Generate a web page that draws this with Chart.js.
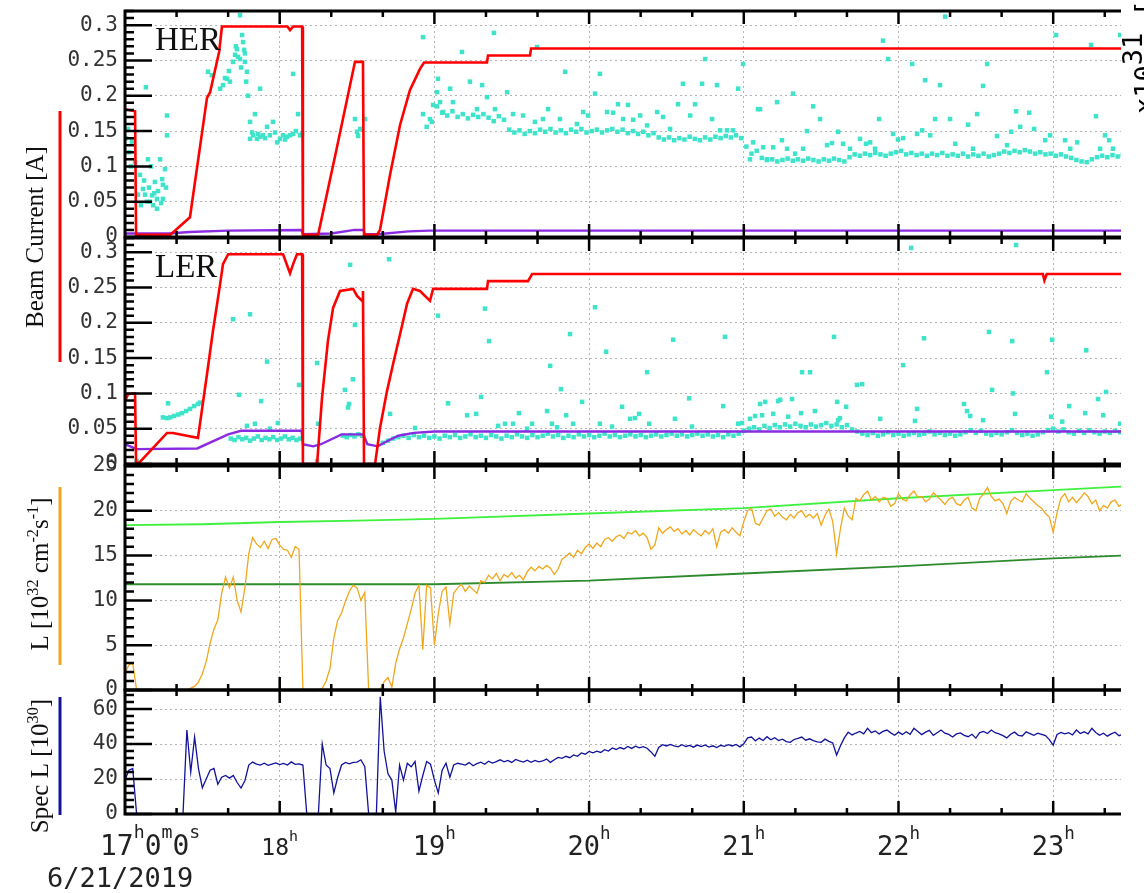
<!DOCTYPE html>
<html>
<head>
<meta charset="utf-8">
<script src="https://cdn.jsdelivr.net/npm/chart.js@4.4.1/dist/chart.umd.min.js"></script>
<style>
  html, body { margin: 0; padding: 0; background: #fff; }
  #wrap { position: relative; width: 1144px; height: 893px; overflow: hidden; }
  #wrap canvas { position: absolute; left: 0; top: 0; }
</style>
</head>
<body>
<div id="wrap">
  <canvas id="her" width="1144" height="893"></canvas>
  <canvas id="ler" width="1144" height="893"></canvas>
  <canvas id="lum" width="1144" height="893"></canvas>
  <canvas id="spec" width="1144" height="893"></canvas>
</div>
<script>
(function () {
  'use strict';

  // time axis: minutes after 17:00 on 6/21/2019
  var T_MAX = 386.3;
  var hourLabels = ['17', '18', '19', '20', '21', '22', '23'];
  var dateLabel = '6/21/2019';

  // ---- HER beam current [A] ----
  var herRed = [[0,0.181],[3.9,0.178],[4.3,0.003],[17.5,0.003],[25.2,0.028],[31.8,0.197],[33,0.205],[36.5,0.262],
    [37.6,0.298],[63,0.298],[64,0.293],[65.2,0.298],[68.7,0.298],[69,0.003],[74.9,0.003],[81.8,0.12],[89.2,0.248],
    [92.3,0.248],[92.7,0.003],[97.7,0.003],[98.9,0.01],[102.8,0.088],[106.7,0.159],[110.5,0.208],[114.4,0.238],
    [116,0.247],[140.4,0.247],[140.8,0.257],[157.1,0.257],[157.5,0.267],[387,0.267]];
  var herPurple = [[0,0.005],[17,0.005],[25,0.007],[40,0.009],[68.5,0.01],[69,0.004],[80,0.005],[89,0.01],
    [92.5,0.01],[93,0.004],[98,0.004],[110,0.008],[118,0.009],[387,0.009]];
  var herDots = [
    [0.4,0.14],[1.2,0.153],[1.6,0.12],[2.3,0.1],[2.7,0.135],[3.9,0.106],[5,0.06],[5.8,0.088],[6.2,0.045],[7,0.068],
    [7.4,0.08],[7.8,0.06],[8.1,0.212],[8.5,0.05],[8.9,0.11],[9.3,0.07],[9.7,0.05],[10.1,0.1],[10.5,0.059],[10.9,0.045],
    [11.3,0.062],[11.6,0.078],[12.4,0.054],[12.4,0.04],[12.8,0.065],[13.6,0.11],[14,0.048],[14.4,0.082],[14.7,0.074],
    [14.7,0.054],[15.5,0.096],[15.9,0.07],[16.3,0.172],[16.3,0.144],
    [32.2,0.234],[33.7,0.229],[36.9,0.21],[38,0.215],[38.8,0.225],[39.6,0.224],[40.3,0.235],[40.7,0.22],[41.9,0.248],
    [42.7,0.258],[43,0.27],[43.4,0.266],[43.8,0.255],[44.6,0.252],[44.6,0.314],[45,0.24],[45.4,0.286],[45.8,0.276],
    [46.2,0.265],[46.5,0.248],[46.5,0.26],[47,0.22],[47.3,0.234],[47.7,0.2],[52.4,0.21],
    [48.5,0.163],[48.5,0.139],[49.3,0.148],[49.7,0.144],[50.4,0.174],[51.2,0.139],[51.6,0.146],[52.4,0.142],[53.5,0.144],
    [54.3,0.14],[55.1,0.156],[56.2,0.144],[57.4,0.163],[58.2,0.148],[59,0.134],[60.1,0.139],[61.3,0.144],[62.1,0.138],
    [62.8,0.142],[64,0.144],[65.2,0.146],[65.2,0.231],[66.3,0.15],[67.1,0.174],[67.9,0.144],[68.7,0.146],
    [89.2,0.167],[90,0.149],[90.4,0.143],[91.2,0.153],[93.1,0.167],
    [115.6,0.283],[115.6,0.174],[118.3,0.167],[119.5,0.187],[121,0.205],[121.4,0.224],[122.2,0.191],[123.4,0.177],
    [126.1,0.21],[127.2,0.191],[130.7,0.262],[133.8,0.22],[136.5,0.181],[138.5,0.215],[140.4,0.198],[143.1,0.289],
    [143.5,0.181],[148.2,0.205],[150.5,0.174],[154.4,0.172],[159,0.163],[159.8,0.269],[162.1,0.167],[164.1,0.181],
    [168.7,0.167],[170.7,0.234],[175.3,0.16],[177.7,0.177],[179.6,0.172],[182.3,0.203],[184.2,0.231],[187,0.177],
    [189.3,0.176],[191.2,0.188],[193.2,0.167],[195.1,0.187],[197.1,0.166],[199.8,0.172],[202.5,0.158],[206.4,0.177],
    [208.7,0.17],[211.4,0.153],[214.5,0.188],[216.4,0.217],[219.2,0.172],[221.1,0.188],[223.8,0.217],[225,0.252],
    [227.7,0.167],[229.6,0.215],[230.8,0.151],[233.5,0.151],[235.8,0.151],[237.8,0.21],[239.7,0.245],[242.4,0.11],
    [243.6,0.134],[245.5,0.181],[246.3,0.181],[247.5,0.127],[249,0.11],[251.4,0.127],[252.9,0.191],[254.8,0.137],
    [256.8,0.125],[259.1,0.203],[259.9,0.118],[263,0.125],[264.5,0.15],[266.9,0.185],[269.6,0.167],[272.3,0.13],
    [274.2,0.133],[276.6,0.149],[278.5,0.132],[281.2,0.125],[285.1,0.139],[287.4,0.132],[289,0.134],[290.9,0.125],
    [292.5,0.167],[294,0.278],[296,0.252],[297.9,0.146],[299.8,0.138],[301.8,0.14],[305.3,0.245],[307.2,0.146],
    [309.2,0.151],[310.3,0.222],[312.3,0.144],[314.2,0.167],[316.1,0.215],[318.1,0.312],[320,0.167],[322,0.132],
    [327,0.159],[328.9,0.125],[330.5,0.174],[332.8,0.214],[334.4,0.245],[338.2,0.143],[342.1,0.13],[343.7,0.149],
    [345.6,0.178],[347.2,0.156],[350.7,0.176],[352.6,0.153],[356.9,0.137],[358.8,0.144],[361.1,0.286],[364.6,0.137],
    [366.6,0.125],[369.3,0.134],[374.7,0.272],[376.6,0.171],[378.2,0.125],[380.1,0.144],[381.7,0.137],[383.2,0.125],
    [386,0.286]];
  // dense HER band, one reading every 2 min from 18:57
  var herBandStart = 117, herBandStep = 2;
  var herBand = [
    0.156,0.163,0.185,0.176,0.172,0.178,0.17,0.174,0.168,0.173,
    0.17,0.174,0.169,0.164,0.171,0.166,0.152,0.148,0.151,0.146,
    0.15,0.147,0.152,0.149,0.153,0.148,0.151,0.147,0.152,0.149,
    0.153,0.148,0.15,0.152,0.148,0.151,0.153,0.149,0.152,0.147,
    0.15,0.146,0.149,0.144,0.147,0.141,0.138,0.141,0.137,0.14,
    0.138,0.142,0.139,0.137,0.141,0.138,0.142,0.14,0.143,0.141,
    0.144,0.14,0.128,0.118,0.122,0.112,0.109,0.11,0.107,0.109,
    0.111,0.108,0.11,0.108,0.111,0.109,0.107,0.11,0.108,0.111,
    0.109,0.107,0.113,0.117,0.115,0.118,0.116,0.119,0.117,0.115,
    0.118,0.12,0.122,0.117,0.119,0.116,0.118,0.115,0.118,0.116,
    0.119,0.115,0.117,0.115,0.118,0.114,0.117,0.115,0.118,0.114,
    0.116,0.118,0.121,0.119,0.122,0.12,0.123,0.121,0.118,0.12,
    0.117,0.118,0.115,0.117,0.114,0.112,0.109,0.107,0.106,0.11,
    0.113,0.115,0.113,0.116,0.114,0.116];

  // ---- LER beam current [A] ----
  var lerRed = [[0,0.089],[1.2,0.099],[3.9,0.1],[4.3,0],[5.8,0.003],[16.3,0.044],[18.6,0.044],[24,0.04],[28.3,0.037],
    [31.8,0.127],[34.1,0.188],[36.9,0.255],[38,0.283],[40,0.297],[61.3,0.297],[64,0.27],[65.2,0.283],[66.7,0.297],
    [68.7,0.297],[69,0],[74.5,0],[76.4,0.093],[78.7,0.174],[80.7,0.221],[83.4,0.245],[88.5,0.248],[90,0.238],
    [92,0.231],[92.3,0.245],[92.7,0],[97,0],[98.9,0.051],[101.6,0.103],[104,0.142],[106.7,0.184],[109.4,0.227],
    [111.7,0.248],[114.4,0.245],[118.3,0.231],[119.5,0.248],[140.4,0.248],[140.8,0.259],[156.3,0.259],[157.9,0.269],
    [356,0.269],[356.6,0.26],[357.5,0.269],[387,0.269]];
  var lerPurple = [[0,0.028],[4.5,0.021],[28,0.022],[40,0.042],[45,0.047],[68.5,0.047],[69,0.028],[73,0.025],
    [76,0.028],[84,0.042],[92.5,0.042],[94,0.028],[98,0.025],[102,0.033],[106,0.04],[112,0.044],[120,0.046],[387,0.046]];
  var lerDots = [
    [4.5,0.004],[14.7,0.066],[16.3,0.065],[16.7,0.086],[17.5,0.066],[19,0.068],[20.6,0.07],[22.1,0.072],[23.7,0.075],
    [25.2,0.078],[26.8,0.082],[28.3,0.085],[29.1,0.087],
    [41,0.036],[42.5,0.034],[44,0.038],[45.5,0.035],[47,0.037],[48.5,0.033],[50,0.036],[51.5,0.039],[53,0.034],
    [54.5,0.037],[56,0.035],[57.5,0.038],[59,0.034],[60.5,0.036],[62,0.039],[63.5,0.035],[65,0.037],[66.5,0.034],
    [68,0.036],[41.9,0.205],[48.5,0.212],[44.2,0.098],[47.3,0.054],[50.4,0.057],[52.8,0.089],[55.1,0.145],[56.2,0.05],
    [59.3,0.058],[67.5,0.112],[74.5,0.143],[74.9,0.057],[74.5,0.004],
    [84.5,0.04],[86,0.038],[87.5,0.041],[89,0.039],[90.5,0.042],[92,0.04],[85.3,0.105],[87.3,0.282],[89.2,0.197],
    [88.4,0.12],[86.9,0.085],[86.5,0.08],
    [102.4,0.29],[102.8,0.071],[112.5,0.051],[121.4,0.21],[125.3,0.086],[132.7,0.069],[136.2,0.071],[138.1,0.095],
    [139.6,0.22],[141.2,0.174],[144.7,0.054],[147.4,0.057],[150.5,0.057],[152.8,0.072],[155.9,0.05],[157.9,0.057],
    [163.7,0.075],[164.9,0.139],[165.6,0.057],[167.6,0.052],[169.1,0.106],[171.1,0.069],[172.6,0.184],[173.8,0.057],
    [177.3,0.088],[182.3,0.222],[184.2,0.057],[186.6,0.159],[188.9,0.053],[192.8,0.081],[195.9,0.064],[197.8,0.065],
    [199.4,0.071],[202.5,0.13],[203.3,0.057],[212.6,0.176],[213.3,0.064],[218.8,0.093],[219.9,0.053],[232,0.082],
    [232.7,0.18],[237.8,0.057],[239.3,0.058],[242.4,0.064],[244.4,0.068],[246.3,0.085],[248.3,0.088],[251.4,0.071],
    [253.3,0.089],[254.1,0.091],[247.1,0.069],[257.2,0.067],[258.7,0.092],[262.2,0.072],[262.6,0.13],[265.7,0.13],
    [267.6,0.075],[275,0.18],[276.2,0.088],[276.6,0.062],[277.3,0.065],[279.7,0.081],[283.9,0.112],[285.9,0.113],
    [292.9,0.064],[301.8,0.14],[304.9,0.306],[307.2,0.078],[306.4,0.061],[309.9,0.178],[325.4,0.085],[326.6,0.075],
    [327.8,0.068],[332.8,0.062],[335.1,0.187],[336.3,0.105],[344.1,0.174],[344.4,0.1],[345.2,0.071],[345.6,0.31],
    [357.6,0.13],[359.2,0.067],[359.6,0.176],[363.5,0.06],[366.2,0.082],[372.4,0.072],[372.8,0.161],[377.4,0.092],
    [379.4,0.069],[380.5,0.102],[386,0.057]];
  // dense LER band, one reading every 2 min from 18:40
  var lerBandStart = 100, lerBandStep = 2;
  var lerBand = [
    0.03,0.033,0.036,0.038,0.04,0.037,0.041,0.038,0.04,0.037,
    0.039,0.036,0.04,0.038,0.041,0.037,0.039,0.042,0.038,0.04,
    0.037,0.041,0.039,0.036,0.04,0.038,0.042,0.039,0.037,0.041,
    0.038,0.04,0.043,0.039,0.041,0.037,0.04,0.038,0.042,0.039,
    0.041,0.038,0.04,0.043,0.039,0.041,0.038,0.04,0.042,0.039,
    0.041,0.038,0.04,0.042,0.039,0.041,0.043,0.04,0.042,0.039,
    0.041,0.043,0.04,0.042,0.039,0.041,0.038,0.042,0.04,0.043,
    0.047,0.05,0.052,0.049,0.054,0.051,0.055,0.052,0.056,0.053,
    0.057,0.054,0.052,0.056,0.053,0.055,0.058,0.054,0.056,0.052,
    0.055,0.049,0.046,0.043,0.041,0.044,0.04,0.042,0.045,0.041,
    0.043,0.04,0.042,0.044,0.041,0.043,0.046,0.042,0.044,0.041,
    0.043,0.04,0.042,0.045,0.048,0.044,0.047,0.043,0.041,0.044,
    0.042,0.045,0.048,0.044,0.041,0.043,0.04,0.042,0.045,0.048,
    0.05,0.046,0.049,0.045,0.043,0.047,0.044,0.048,0.045,0.043,
    0.046,0.044,0.047,0.045];

  // ---- luminosity [1e32 cm^-2 s^-1], one reading every 1.5 min ----
  var lumStep = 1.5;
  var lum = [
    1.9,2.8,3.0,0,0,0,0,0,0,0,
    0,0,0,0,0,0,0,0.2,0.4,0.9,
    1.8,3.2,5.2,6.8,7.8,10.8,12.6,11.4,12.6,10.0,
    8.7,11.4,15.2,17.0,16.3,15.9,16.6,15.8,16.8,16.9,
    16.2,15.7,15.6,14.8,16.0,15.7,0,0,0,0,
    0,0.2,1.0,2.4,5.8,7.8,8.6,9.9,11.0,11.7,
    11.4,10.0,10.9,0,0,0,0.1,0.9,1.4,0.3,
    3.0,4.6,5.8,7.4,9.0,10.8,11.7,4.5,11.7,11.4,
    5.0,8.5,11.0,11.5,7.4,10.8,11.4,11.8,11.0,11.6,
    11.2,10.8,12.2,12.0,12.8,12.4,13.0,12.2,12.9,12.6,
    13.1,12.5,12.8,12.3,13.2,13.7,13.3,13.8,13.5,13.9,
    13.6,12.9,13.5,14.6,14.9,15.3,14.8,15.6,15.2,15.9,
    16.3,15.8,16.4,16.0,16.8,17.0,16.6,17.1,17.3,16.9,
    17.6,17.4,17.8,17.2,17.5,17.0,15.7,16.2,18.1,17.5,
    17.9,18.2,17.7,18.0,17.4,17.8,17.3,17.9,17.5,17.2,
    17.8,17.4,18.0,16.0,17.6,17.9,17.5,18.1,17.6,17.2,
    18.8,20.0,20.3,18.6,18.4,19.2,20.0,20.2,19.4,19.8,
    19.3,19.0,19.6,19.2,19.8,20.0,19.3,19.6,19.2,19.7,
    18.4,19.5,20.2,18.8,15.2,18.0,20.3,19.4,19.0,21.4,
    21.1,21.8,22.2,21.2,21.6,21.0,21.5,21.4,20.5,20.8,
    21.9,21.3,21.1,21.8,22.2,21.5,21.6,21.0,21.3,22.0,
    21.6,21.2,20.7,21.3,21.5,20.8,20.6,21.2,21.5,20.3,
    20.0,21.4,21.9,22.6,21.6,21.1,21.3,20.8,19.7,21.0,
    21.5,21.2,21.0,21.9,21.4,21.0,20.6,20.3,19.7,19.3,
    17.6,19.8,21.4,21.9,21.0,21.5,20.9,21.4,22.0,21.6,
    20.8,21.2,20.0,20.6,20.3,21.0,21.2,20.5,20.8];
  var lumHigh = [[0,18.4],[30,18.5],[60,18.75],[90,18.9],[120,19.1],[180,19.7],[240,20.3],[300,21.4],[360,22.3],[387,22.7]];
  var lumLow = [[0,11.8],[120,11.8],[180,12.2],[240,13.0],[300,13.8],[360,14.7],[387,15.0]];

  // ---- specific luminosity [1e30], one reading every 1.5 min ----
  var specStep = 1.5;
  var spec = [
    19.4,25,26,0,0,0,0,0,0,0,
    0,0,0,0,0,0,48,24,44,26,
    15,20,25,26,17,21,22,20.5,22,18,
    14.8,19,28,29.7,28.5,28,29,27.8,28.5,29.2,
    28.3,28.9,28,29.8,28.4,28.7,28,0,0,0,
    0,40,28,26,12,21,28,29.5,28.7,29.5,
    29.7,31,27,0,0,0,67,36,23,19.4,
    1,28,19.4,29,27,30,13,22,30,28.5,
    19.4,12,25,29,21,28,29,28.5,28,29.4,
    27.6,28.8,29.6,28.4,30.2,29.1,30,31,29.8,30.6,
    29.5,31.2,30.4,29.7,30.8,29.6,30.6,29.8,30.3,31.4,
    29.5,31,32.4,31.8,33,32.2,33.8,33,34.9,34.2,
    35.8,35,35.9,35.2,36.8,36,37.8,36.9,38,37.2,
    38.6,37.5,38.8,37.8,38.5,37.6,35.5,33,38,39.6,
    38.9,39.8,39,38.4,39.6,38.6,39.2,38.2,39.4,38.5,
    39.5,38.3,39,38,39.3,38.7,39.6,38.9,39.8,38.4,
    40.2,43.5,44,41.8,43.4,42,44.2,42.4,43.6,42,
    42.8,41.4,41,42.6,43.2,44,42.2,43,42,41.2,
    41,42.8,41.5,40.6,33.7,39,43.5,46.8,45.2,46.3,
    47.2,45.8,49,46.5,47.5,45.8,47.2,48,46.4,45,
    46.8,45.5,47,45.6,49,47.2,45.4,46.8,47.8,45,
    46.5,48,46.2,45.5,44,45.8,46.4,45,44.2,45.6,
    43.4,46.5,47.2,46,48,46.5,45.8,44.8,43.5,45.6,
    46.8,45,44.6,47,46,45,46.2,45.5,44.8,42.5,
    39.4,45.5,46.6,45.8,46.5,45.2,48,46,47,45.8,
    49,46.6,45,46.2,44.5,45.8,46.8,44.8,45.5];

  var RED = '#ff0000', PURPLE = '#8a2be2', CYAN = '#3fe3c9';
  var ORANGE = '#efa71d', LIGHT_GREEN = '#3ff03f', DARK_GREEN = '#2e8a2e', NAVY = '#12129a';
  var MONO = '"DejaVu Sans Mono", monospace';
  var SERIF = '"Liberation Serif", "DejaVu Serif", serif';
  var PLOT_RIGHT = 1121;

  function pairs(a) {
    return a.map(function (p) { return { x: p[0], y: p[1] }; });
  }
  function sampled(vals, start, step) {
    return vals.map(function (v, i) { return { x: start + i * step, y: v }; });
  }
  function lineSet(data, color, width) {
    return { type: 'line', data: data, borderColor: color, borderWidth: width, pointRadius: 0, fill: false, tension: 0 };
  }
  function dotSet(data) {
    return {
      type: 'scatter', data: data, showLine: false, pointStyle: 'rect', pointRadius: 3.2,
      pointBackgroundColor: CYAN, backgroundColor: CYAN, borderColor: CYAN, pointBorderWidth: 0
    };
  }

  function drawRich(ctx, parts, x, y, size, family, align, raise) {
    var w = 0;
    parts.forEach(function (p) {
      ctx.font = (p[1] ? size * 0.65 : size) + 'px ' + family;
      w += ctx.measureText(p[0]).width;
    });
    var cx = align === 'center' ? x - w / 2 : x;
    ctx.textAlign = 'left';
    parts.forEach(function (p) {
      ctx.font = (p[1] ? size * 0.65 : size) + 'px ' + family;
      ctx.fillText(p[0], cx, p[1] ? y - size * raise : y);
      cx += ctx.measureText(p[0]).width;
    });
  }

  function drawRotated(ctx, parts, x, y, size, family, align) {
    ctx.save();
    ctx.translate(x, y);
    ctx.rotate(-Math.PI / 2);
    drawRich(ctx, parts, 0, 0, size, family, align, 0.42);
    ctx.restore();
  }

  // black frame with inward ticks, as in the original plot
  var framePlugin = {
    id: 'frame',
    afterDraw: function (chart, args, opts) {
      var ctx = chart.ctx, a = chart.chartArea;
      var xs = chart.scales.x, ys = chart.scales.y;
      var step = chart.options.scales.y.ticks.stepSize;
      ctx.save();
      ctx.strokeStyle = '#000';
      ctx.lineWidth = 3;
      ctx.beginPath();
      ctx.moveTo(a.left, a.top - 1.5);
      ctx.lineTo(a.left, a.bottom + 1.5);
      ctx.moveTo(a.left, a.top);
      ctx.lineTo(a.right, a.top);
      ctx.moveTo(a.left, a.bottom);
      ctx.lineTo(a.right, a.bottom);
      ctx.stroke();
      ctx.lineWidth = 2.5;
      ctx.beginPath();
      for (var k = 0; k * opts.yMinor <= ys.max + 1e-9; k++) {
        var v = k * opts.yMinor;
        var r = v / step;
        var major = Math.abs(r - Math.round(r)) < 1e-6;
        var py = ys.getPixelForValue(v);
        ctx.moveTo(a.left, py);
        ctx.lineTo(a.left + (major ? 27 : 9), py);
      }
      for (var m = 20; m <= xs.max; m += 20) {
        var len = m % 60 === 0 ? 13 : 6;
        var px = xs.getPixelForValue(m);
        ctx.moveTo(px, a.top);
        ctx.lineTo(px, a.top + len);
        ctx.moveTo(px, a.bottom);
        ctx.lineTo(px, a.bottom - len);
      }
      ctx.stroke();
      if (opts.name) {
        ctx.fillStyle = '#111';
        ctx.font = '33px ' + SERIF;
        ctx.textAlign = 'left';
        ctx.fillText(opts.name, a.left + 30, a.top + 39);
      }
      ctx.restore();
    }
  };

  // axis titles, time labels and the clipped text at the right edge
  var decorPlugin = {
    id: 'decor',
    afterDraw: function (chart) {
      var ctx = chart.ctx, xs = chart.scales.x;
      ctx.save();
      ctx.fillStyle = '#222';
      ctx.textBaseline = 'alphabetic';
      drawRich(ctx, [[hourLabels[0]], ['h', 1], ['0'], ['m', 1], ['0'], ['s', 1]],
        xs.getPixelForValue(0) - 25, 855, 28, MONO, 'left', 0.6);
      for (var k = 1; k < hourLabels.length; k++) {
        drawRich(ctx, [[hourLabels[k]], ['h', 1]], xs.getPixelForValue(60 * k), 855,
          k === 1 ? 23 : 27, MONO, 'center', 0.6);
      }
      ctx.font = '27px ' + MONO;
      ctx.textAlign = 'left';
      ctx.fillText(dateLabel, 47, 887);

      ctx.fillStyle = '#111';
      drawRotated(ctx, [['Beam Current [A]']], 43, 237, 25, SERIF, 'center');
      drawRotated(ctx, [['L [10'], ['32', 1], [' cm'], ['-2', 1], ['s'], ['-1', 1], [']']], 48, 574, 25, SERIF, 'center');
      drawRotated(ctx, [['Spec L [10'], ['30', 1], [']']], 48, 766, 25, SERIF, 'center');

      ctx.lineWidth = 3;
      [[RED, 111, 362], [ORANGE, 487, 665], [NAVY, 697, 815]].forEach(function (b) {
        ctx.strokeStyle = b[0];
        ctx.beginPath();
        ctx.moveTo(60, b[1]);
        ctx.lineTo(60, b[2]);
        ctx.stroke();
      });

      ctx.fillStyle = '#000';
      ctx.save();
      ctx.translate(1154, 114);
      ctx.rotate(-Math.PI / 2);
      drawRich(ctx, [['x10'], ['31', 1], [' [']], 0, 0, 28, 'bold ' + '"DejaVu Sans"', 'left', 0.42);
      ctx.restore();
      ctx.restore();
    }
  };

  function makePanel(id, cfg) {
    var gridStyle = { color: '#b4b4b4', lineWidth: 1, drawTicks: false };
    return new Chart(document.getElementById(id), {
      type: 'line',
      data: { datasets: cfg.datasets },
      options: {
        responsive: false,
        animation: false,
        events: [],
        layout: { padding: { left: 0, right: 1144 - PLOT_RIGHT, top: cfg.top, bottom: 893 - cfg.bottom } },
        plugins: {
          legend: { display: false },
          tooltip: { enabled: false },
          frame: { yMinor: cfg.minor, name: cfg.name }
        },
        scales: {
          x: {
            type: 'linear', min: 0, max: T_MAX,
            ticks: { display: false, stepSize: 60, includeBounds: false },
            grid: gridStyle,
            border: { display: false, dash: [2, 3] },
            afterFit: function (s) { s.height = 0; s.paddingLeft = 0; s.paddingRight = 0; }
          },
          y: {
            type: 'linear', min: cfg.min, max: cfg.max,
            ticks: {
              stepSize: cfg.step, includeBounds: false, padding: 7, color: '#333',
              font: { family: MONO, size: 21 },
              callback: function (v) { return String(Math.round(v * 100) / 100); }
            },
            grid: gridStyle,
            border: { display: false, dash: [2, 3] },
            afterFit: function (s) { s.width = 125; s.paddingTop = 0; s.paddingBottom = 0; }
          }
        }
      },
      plugins: cfg.decor ? [framePlugin, decorPlugin] : [framePlugin]
    });
  }

  makePanel('her', {
    top: 11, bottom: 237, min: 0, max: 0.32, step: 0.05, minor: 0.01, name: 'HER',
    datasets: [
      lineSet(pairs(herRed), RED, 2.6),
      lineSet(pairs(herPurple), PURPLE, 2.4),
      dotSet(pairs(herDots)),
      dotSet(sampled(herBand, herBandStart, herBandStep))
    ]
  });
  makePanel('ler', {
    top: 238, bottom: 464, min: 0, max: 0.32, step: 0.05, minor: 0.01, name: 'LER',
    datasets: [
      lineSet(pairs(lerRed), RED, 2.6),
      lineSet(pairs(lerPurple), PURPLE, 2.4),
      dotSet(pairs(lerDots)),
      dotSet(sampled(lerBand, lerBandStart, lerBandStep))
    ]
  });
  makePanel('lum', {
    top: 466, bottom: 690, min: 0, max: 25, step: 5, minor: 1,
    datasets: [
      lineSet(sampled(lum, 0, lumStep), ORANGE, 1.3),
      lineSet(pairs(lumHigh), LIGHT_GREEN, 1.8),
      lineSet(pairs(lumLow), DARK_GREEN, 1.8)
    ]
  });
  makePanel('spec', {
    top: 690, bottom: 814, min: 0, max: 70.9, step: 20, minor: 4, decor: true,
    datasets: [
      lineSet(sampled(spec, 0, specStep), NAVY, 1.3)
    ]
  });
})();
</script>
</body>
</html>
